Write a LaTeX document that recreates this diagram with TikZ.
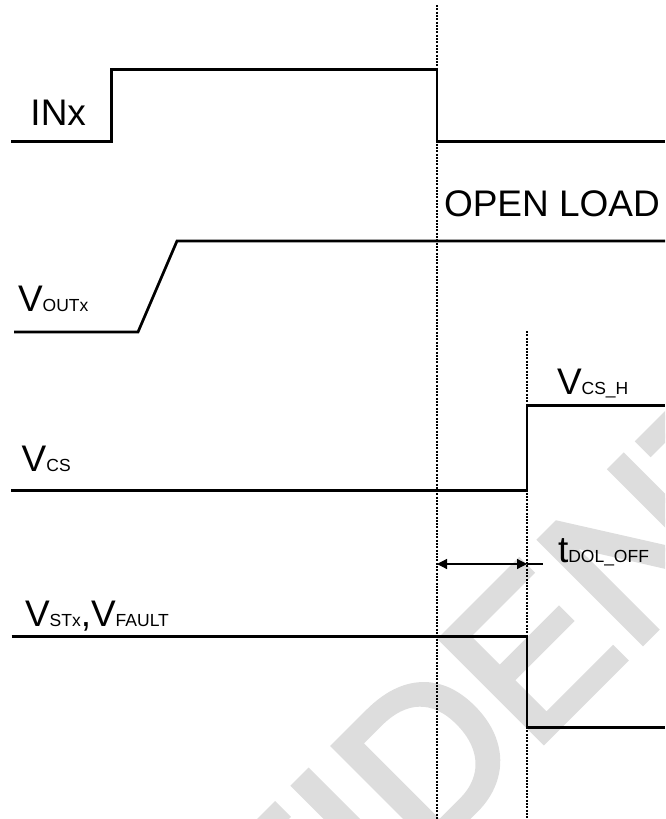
\documentclass[tikz,border=0pt]{standalone}
\usepackage{fontspec}
\usepackage{graphicx}
\setmainfont{Liberation Sans}
\newfontfamily\wmfont[FakeBold=3]{Liberation Sans}
\usetikzlibrary{arrows.meta}
\definecolor{wm}{RGB}{221,221,221}
\newcommand{\sbs}[1]{{\fontsize{17.5}{18}\selectfont #1}}
\begin{document}
\begin{tikzpicture}[x=1pt,y=-1pt,
  sig/.style={line width=2.7pt, line join=miter, line cap=butt, black},
  guide/.style={line width=1.2pt, dash pattern=on 2pt off 1.3pt, black},
  lbl/.style={anchor=base west, inner sep=0pt, outer sep=0pt, font=\fontsize{37}{40}\selectfont},
  dimarrow/.style={line width=1.2pt, {Triangle[length=10pt,width=10pt]}-{Triangle[length=10pt,width=10pt]}},
]
\useasboundingbox (0,0) rectangle (665,819);
% watermark
\begin{scope}
\clip (0,0) rectangle (665,819);
\node[anchor=base west, rotate=45, inner sep=0pt, text=wm,
  font=\wmfont\fontsize{210}{210}\selectfont] (wmark) at (-37.5,1322.5) {CONFIDENTIAL};
\end{scope}
% reference coordinates
\coordinate (d1top) at (437,5);
\coordinate (d1bot) at (437,819);
\coordinate (d2top) at (527,331);
\coordinate (d2bot) at (527,819);
\coordinate (a1) at (437,564);
\coordinate (a2) at (527,564);
\coordinate (a3) at (543,564);
% dotted guides
\draw[guide] (d1top) -- (d1bot);
\draw[guide] (d2top) -- (d2bot);
% waveforms
\draw[sig] (11,141.7) -| (111.7,69.3) -| (437,141.7) -- (665,141.7);
\draw[sig] (14,332) -- (138,332) -- (177,241) -- (665,241);
\draw[sig] (11,490.7) -| (527,405.7) -- (665,405.7);
\draw[sig] (11.7,636.7) -| (527,727.3) -- (665,727.3);
% delay arrow
\draw[dimarrow] (a1) -- (a2);
\draw[line width=1.2pt] (a2) -- (a3);
% labels
\node[lbl] (inx) at (30.5,125.7) {INx};
\node[lbl] (open) at (444,216.7) {OPEN LOAD};
\node[lbl] (vout) at (18,311.7) {V\sbs{OUTx}};
\node[lbl] (vcsh) at (557,394.3) {V\sbs{CS\_H}};
\node[lbl] (vcs) at (21.7,471.7) {V\sbs{CS}};
\node[lbl] (tdol) at (558,562.2) {t\sbs{DOL\_OFF}};
\node[lbl] (vst) at (25,626.7) {V\sbs{STx},V\sbs{FAULT}};
\end{tikzpicture}
\end{document}
